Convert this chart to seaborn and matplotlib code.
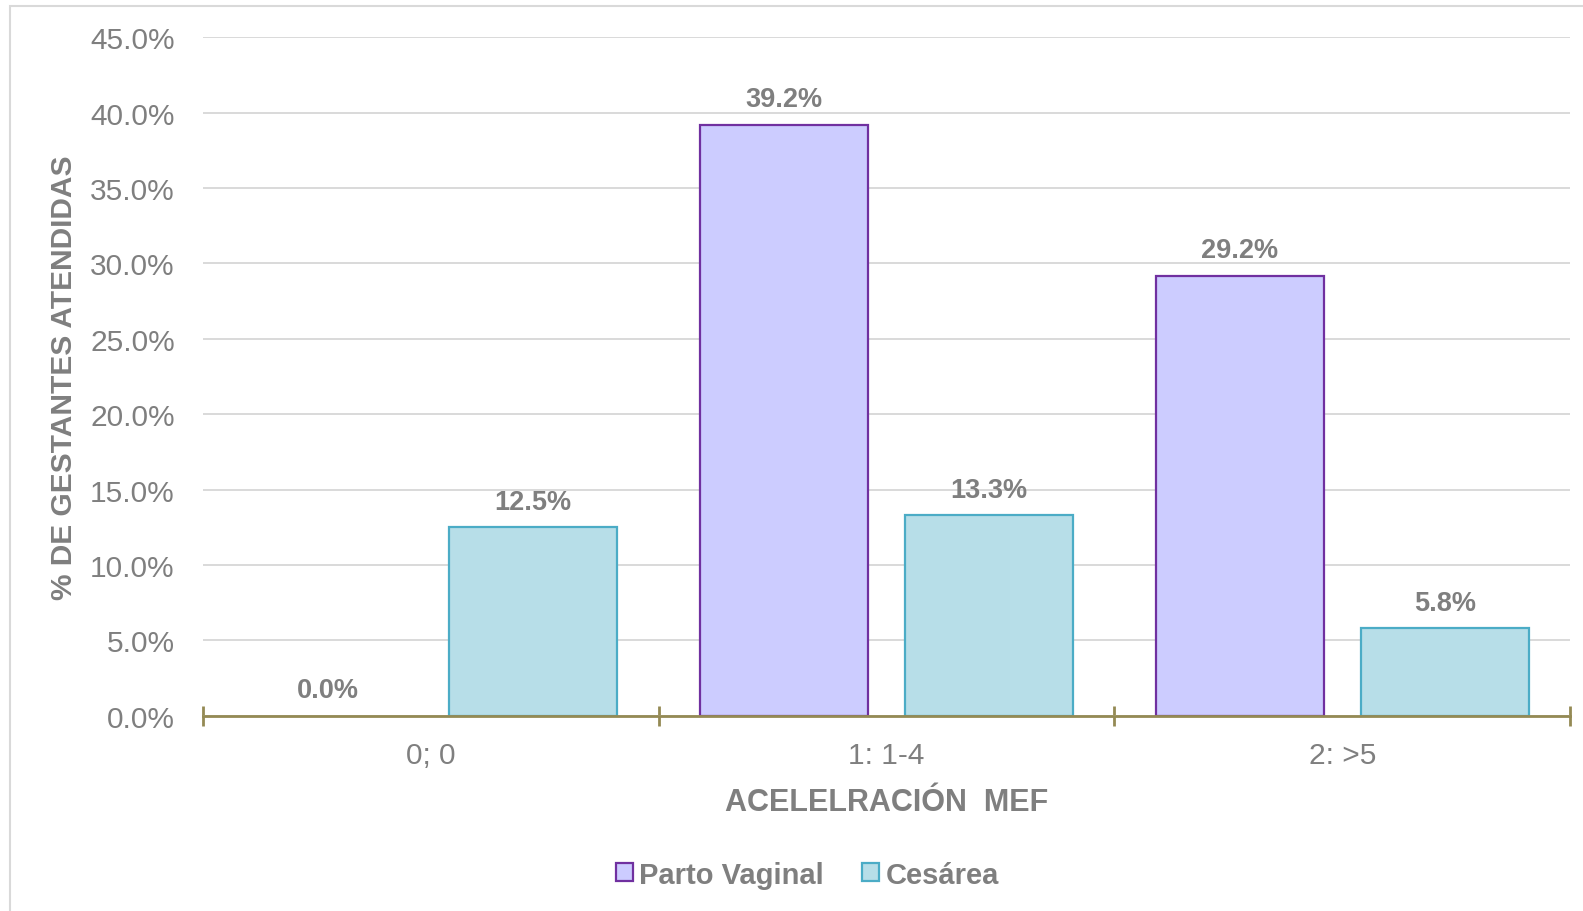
import pandas as pd
import numpy as np
import matplotlib.pyplot as plt
import seaborn as sns
from matplotlib.patches import Rectangle
from matplotlib.ticker import FixedLocator, PercentFormatter

categories = ['0; 0', '1: 1-4', '2: >5']
series_names = ['Parto Vaginal', 'Cesárea']
parto_vaginal = [0.0, 39.2, 29.2]
cesarea = [12.5, 13.3, 5.8]

fills = ['#CCCCFF', '#B7DEE8']
edges = ['#7030A0', '#4BACC6']
GRAY = '#7F7F7F'

df = pd.DataFrame({
    'categoria': categories * 2,
    'serie': [series_names[0]] * 3 + [series_names[1]] * 3,
    'valor': parto_vaginal + cesarea,
})

sns.set_style('white')
plt.rcParams['font.family'] = ['Liberation Sans', 'DejaVu Sans']

fig = plt.figure(figsize=(15.83, 9.12), dpi=100)
ax = fig.add_axes([0.128, 0.214, 0.864, 0.744])

sns.barplot(data=df, x='categoria', y='valor', hue='serie', hue_order=series_names,
            palette=fills, saturation=1, width=0.9, gap=0.18, legend=False, ax=ax, zorder=3)

# outline colours per series, empty bars get no outline
for cont, ec in zip(ax.containers, edges):
    for p in cont:
        p.set_edgecolor(ec if p.get_height() > 0 else 'none')
        p.set_linewidth(1.6)
    ax.bar_label(cont, labels=[f'{v:.1f}%' for v in cont.datavalues], padding=9,
                 fontsize=19.5, fontweight='bold', color=GRAY)

ax.set_ylim(0, 45)
ax.set_xlim(-0.5, 2.5)
ax.set_yticks(np.arange(0, 46, 5))
ax.yaxis.set_major_formatter(PercentFormatter(decimals=1))
ax.grid(axis='y', color='#D9D9D9', linewidth=1.4, zorder=0)
ax.set_axisbelow(True)

for s in ['top', 'right', 'left']:
    ax.spines[s].set_visible(False)
ax.spines['bottom'].set_color('#948A54')
ax.spines['bottom'].set_linewidth(2)
ax.spines['bottom'].set_zorder(5)

ax.tick_params(axis='y', length=0, labelsize=21.5, labelcolor=GRAY, pad=20)
ax.tick_params(axis='x', which='major', length=0, labelsize=21.5, labelcolor=GRAY, pad=18)
ax.xaxis.set_minor_locator(FixedLocator([-0.5, 0.5, 1.5, 2.5]))
ax.tick_params(axis='x', which='minor', bottom=True, length=14, width=2,
               color='#948A54', direction='inout')

ax.set_xlabel('ACELELRACIÓN  MEF', fontsize=22, fontweight='bold', color=GRAY, labelpad=13)
ax.set_ylabel('% DE GESTANTES ATENDIDAS', fontsize=21.5, fontweight='bold', color=GRAY, labelpad=9)

leg = fig.legend(handles=[c.patches[1] for c in ax.containers], labels=series_names,
                 loc='center', bbox_to_anchor=(0.51, 0.04), ncol=2, frameon=False,
                 handlelength=0.6, handleheight=0.6, handletextpad=0.2, columnspacing=1.3,
                 prop={'size': 21, 'weight': 'bold'})
for t in leg.get_texts():
    t.set_color(GRAY)

fig.patches.append(Rectangle((10 / 1583, -0.05), 1.2, 1 - 7 / 912 + 0.05,
                             transform=fig.transFigure, fill=False,
                             edgecolor='#D9D9D9', linewidth=1.5))

fig.savefig('out.png', dpi=100)
